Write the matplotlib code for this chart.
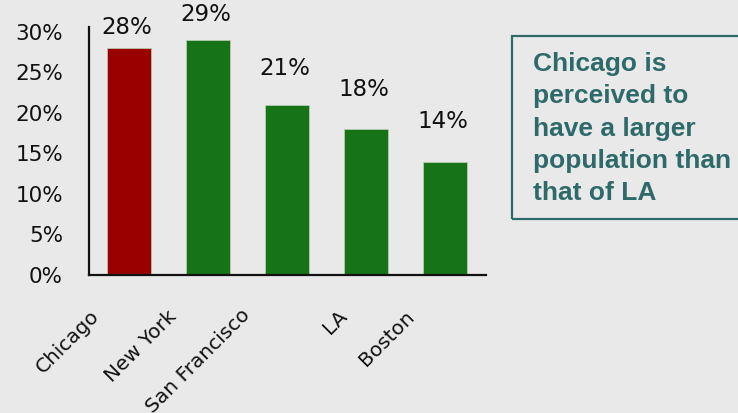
import matplotlib
matplotlib.use("Agg")
import matplotlib.pyplot as plt
from matplotlib.patches import Rectangle
from matplotlib.transforms import ScaledTranslation

# Survey results: which city is perceived to have the larger population
cities = ["Chicago", "New York", "San Francisco", "LA", "Boston"]
shares = [28, 29, 21, 18, 14]
value_labels = ["28%", "29%", "21%", "18%", "14%"]
y_ticks = [0, 5, 10, 15, 20, 25, 30]
y_tick_labels = ["0%", "5%", "10%", "15%", "20%", "25%", "30%"]
note = "Chicago is\nperceived to\nhave a larger\npopulation than\nthat of LA"

BG = "#e9e9e9"
RED = "#990000"
GREEN = "#177317"
TEAL = "#2f6a6a"
INK = "#111111"

bar_colors = [RED, GREEN, GREEN, GREEN, GREEN]
label_gap_px = [21, 25, 36, 40, 40]
# extra shift (pixels) for each rotated category label
tick_shift_px = [(-39, -20), (-41, -21), (-47, -19), (-29, -20), (-40, -21)]

DPI = 100
fig = plt.figure(figsize=(7.38, 4.13), dpi=DPI, facecolor=BG)
ax = fig.add_axes([89 / 738, 1 - 275 / 413, (486 - 89) / 738, (275 - 27) / 413])
ax.set_facecolor(BG)

x = list(range(len(cities)))
ax.bar(x, shares, width=0.55, color=bar_colors, edgecolor="#b9d3b9", linewidth=0.5)

ax.set_xlim(-0.506, 4.52)
ax.set_ylim(0, 30.6)
ax.set_yticks(y_ticks)
ax.set_yticklabels(y_tick_labels, fontsize=15.5, color=INK)
ax.tick_params(axis="y", length=0, pad=18.7)

ax.set_xticks(x)
ax.set_xticklabels(cities, fontsize=14.5, rotation=45, ha="right",
                   rotation_mode="anchor", color=INK)
ax.tick_params(axis="x", length=0, pad=8)
for lbl, (dx, dy) in zip(ax.get_xticklabels(), tick_shift_px):
    lbl.set_transform(lbl.get_transform()
                      + ScaledTranslation(dx / DPI, dy / DPI, fig.dpi_scale_trans))

for spine in ("top", "right"):
    ax.spines[spine].set_visible(False)
for spine in ("left", "bottom"):
    ax.spines[spine].set_color(INK)
    ax.spines[spine].set_linewidth(1.6)

for xi, val, txt, gap in zip(x, shares, value_labels, label_gap_px):
    ax.annotate(txt, xy=(xi, val), xytext=(-1.5, gap * 0.72),
                textcoords="offset points", ha="center", va="center",
                fontsize=16.5, color=INK)

rect = Rectangle((512 / 738, 1 - 219 / 413), 0.4, (219 - 36) / 413,
                 transform=fig.transFigure, fill=False, edgecolor=TEAL,
                 linewidth=1.6, clip_on=False)
fig.patches.append(rect)
fig.text(533 / 738, 1 - 52 / 413, note, fontsize=19, fontweight="bold",
         family="Liberation Sans", color=TEAL, va="top", ha="left",
         linespacing=1.44)

fig.savefig("out.png", dpi=DPI, facecolor=BG)
